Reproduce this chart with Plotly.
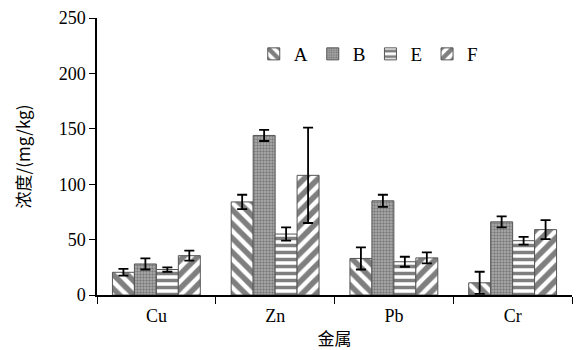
import plotly.graph_objects as go

categories = ["Cu", "Zn", "Pb", "Cr"]
series_names = ["A", "B", "E", "F"]
values_A = [20.5, 84, 33, 11]
values_B = [28, 144, 85, 66]
values_E = [23, 55, 30, 49]
values_F = [35.5, 108, 33.5, 59]
err_A = [3, 6.5, 10, 10]
err_B = [5, 5, 5.5, 5]
err_E = [2, 6, 4.5, 3.5]
err_F = [4.5, 43, 5, 8.5]

patterns = {
    "A": dict(shape="\\", size=10, solidity=0.55, fgcolor="black", bgcolor="white"),
    "B": dict(shape=".", size=3, solidity=0.5, fgcolor="#444444", bgcolor="#b0b0b0"),
    "E": dict(shape="-", size=7, solidity=0.5, fgcolor="black", bgcolor="white"),
    "F": dict(shape="/", size=10, solidity=0.55, fgcolor="black", bgcolor="white"),
}

fig = go.Figure()
for name, vals, errs in zip(series_names,
                            [values_A, values_B, values_E, values_F],
                            [err_A, err_B, err_E, err_F]):
    fig.add_trace(go.Bar(
        name=name, x=categories, y=vals,
        marker=dict(color="white", pattern=patterns[name],
                    line=dict(color="#555555", width=1)),
        error_y=dict(type="data", array=errs, visible=True,
                     color="black", thickness=1.8, width=5),
    ))

font_serif = "Liberation Serif, Times New Roman, serif"
fig.update_layout(
    width=578, height=350,
    margin=dict(l=97, r=6, t=18, b=55, autoexpand=False),
    paper_bgcolor="white", plot_bgcolor="white",
    barmode="group", bargap=0.26, bargroupgap=0,
    font=dict(family=font_serif, size=16, color="black"),
    legend=dict(orientation="h", x=0.33, xanchor="left", y=0.87, yanchor="middle",
                font=dict(family=font_serif, size=19), bgcolor="rgba(0,0,0,0)",
                itemwidth=30, tracegroupgap=0),
    showlegend=True,
)
fig.update_xaxes(
    automargin=False,
    showline=True, linecolor="black", linewidth=1.5,
    ticks="outside", tickson="boundaries", ticklen=7, tickcolor="black",
    tickfont=dict(family=font_serif, size=18), ticklabelstandoff=4,
    title=dict(text="金属", font=dict(family="Noto Sans CJK SC", size=17), standoff=12),
    showgrid=False,
)
fig.update_yaxes(
    automargin=False,
    range=[0, 250], dtick=50,
    showline=True, linecolor="black", linewidth=1.5,
    ticks="outside", ticklen=6, tickcolor="black",
    tickfont=dict(family=font_serif, size=18),
    title=dict(text="浓度/(mg/kg)", font=dict(family="Noto Sans CJK SC", size=17), standoff=24),
    showgrid=False, zeroline=False,
)
fig.write_html("out.html", config={"displayModeBar": False},
               post_script="document.body.style.margin='0';")
